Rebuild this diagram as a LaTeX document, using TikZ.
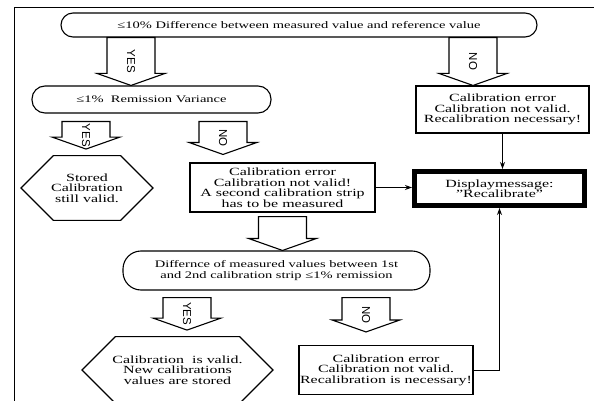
\documentclass[tikz,border=0pt]{standalone}
\usepackage{fontspec}
\setmainfont{Liberation Serif}[FakeStretch=1.45]
\newfontfamily\labelfont{Liberation Sans}
\usetikzlibrary{arrows.meta,calc,shapes.misc}
\tikzset{
    flowoval/.style={draw, line width=1.1pt, align=center, inner sep=1pt, font=\fontsize{10}{10.5}\selectfont},
    flowbox/.style={draw, line width=1.1pt, align=center, inner sep=1pt, font=\fontsize{11}{10.5}\selectfont},
    flowend/.style={draw, line width=1.1pt, chamfered rectangle, align=center, inner sep=1pt, font=\fontsize{11}{10.5}\selectfont},
    flowmsg/.style={draw, line width=5pt, align=center, inner sep=1pt, font=\fontsize{11}{10.5}\selectfont},
    flowarrow/.style={-{Stealth[length=7pt, width=5pt]}, line width=1pt},
    flowlabel/.style={font=\labelfont\fontsize{11.5}{11.5}\selectfont, rotate=-90, inner sep=0pt},
    fatarrow/.style={draw, line width=1.1pt, to path={let \p1=(\tikztostart), \p2=(\tikztotarget) in
        (\x1-24pt,\y1) -- (\x1-24pt,\y2+12pt) -- (\x1-34pt,\y2+12pt) -- (\x1,\y2)
        -- (\x1+34pt,\y2+12pt) -- (\x1+24pt,\y2+12pt) -- (\x1+24pt,\y1) -- cycle
        node[flowlabel] at (\x1,{(\y1+\y2)/2}) {#1}}},
    fatarrow/.default={}
}

\begin{document}
\begin{tikzpicture}[x=1pt, y=-1pt]
    \useasboundingbox (0,0) rectangle (594,401);
    \clip (0,0) rectangle (594,401);
    \draw[line width=1pt] (14,8) rectangle (620,420);

    % decisions
    \node[flowoval, rounded corners=12pt, minimum width=476pt, minimum height=24pt] (diff10) at (299,25) {≤10\% Difference between measured value and reference value};
    \node[flowoval, rounded corners=13pt, minimum width=239pt, minimum height=27pt] (remis) at (151.5,99.5) {≤1\%\ \ Remission Variance};
    \node[flowoval, rounded corners=18pt, minimum width=307pt, minimum height=39pt] (strips) at (276.5,270.5) {Differnce of measured values between 1st\\and 2nd calibration strip ≤1\% remission};

    % results
    \node[flowbox, minimum width=173pt, minimum height=47pt] (err1) at (502.5,109.5) {Calibration error\\Calibration not valid.\\Recalibration necessary!};
    \node[flowbox, minimum width=185pt, minimum height=49pt] (err2) at (282.5,187.5) {Calibration error\\Calibration not valid!\\A second calibration strip\\has to be measured};
    \node[flowbox, minimum width=174pt, minimum height=49pt] (err3) at (386,370) {Calibration error\\Calibration not valid.\\Recalibration is necessary!};
    \node[flowmsg, minimum width=170pt, minimum height=34pt] (recal) at (499.5,188.5) {Displaymessage:\\"Recalibrate"};
    \node[flowend, minimum width=132pt, minimum height=54pt, chamfered rectangle xsep=31pt, chamfered rectangle ysep=17pt] (stored) at (87,188) {Stored\\Calibration\\still valid.};
    \node[flowend, minimum width=191pt, minimum height=62pt, chamfered rectangle xsep=35pt, chamfered rectangle ysep=18pt] (valid) at (177.5,370) {Calibration\ \ is valid.\\New calibrations\\values are stored};

    % hollow arrows
    \draw[fatarrow=YES] ([xshift=-168pt]diff10.south) to (remis.north);
    \draw[fatarrow=NO] ([xshift=174pt]diff10.south) to (err1.north);
    \draw[fatarrow=YES] ([shift={(-65.5pt,-8pt)}]remis.south) to ([yshift=6pt]stored.north);
    \draw[fatarrow=NO] ([shift={(71.5pt,-8pt)}]remis.south) to ([yshift=8pt]err2.north);
    \draw[fatarrow] ([yshift=-4pt]err2.south) to (strips.north);
    \draw[fatarrow=YES] ([shift={(-89.5pt,-7pt)}]strips.south) to ([yshift=6pt]valid.north);
    \draw[fatarrow=NO] ([shift={(89.5pt,-7pt)}]strips.south) to ([yshift=13pt]err3.north);

    % thin arrows
    \draw[flowarrow] (err1.south) -- (err1.south |- recal.north);
    \draw[flowarrow] (err2.east) -- (err2.east -| recal.west);
    \draw[flowarrow] (err3.east) -| (recal.south);
\end{tikzpicture}
\end{document}
